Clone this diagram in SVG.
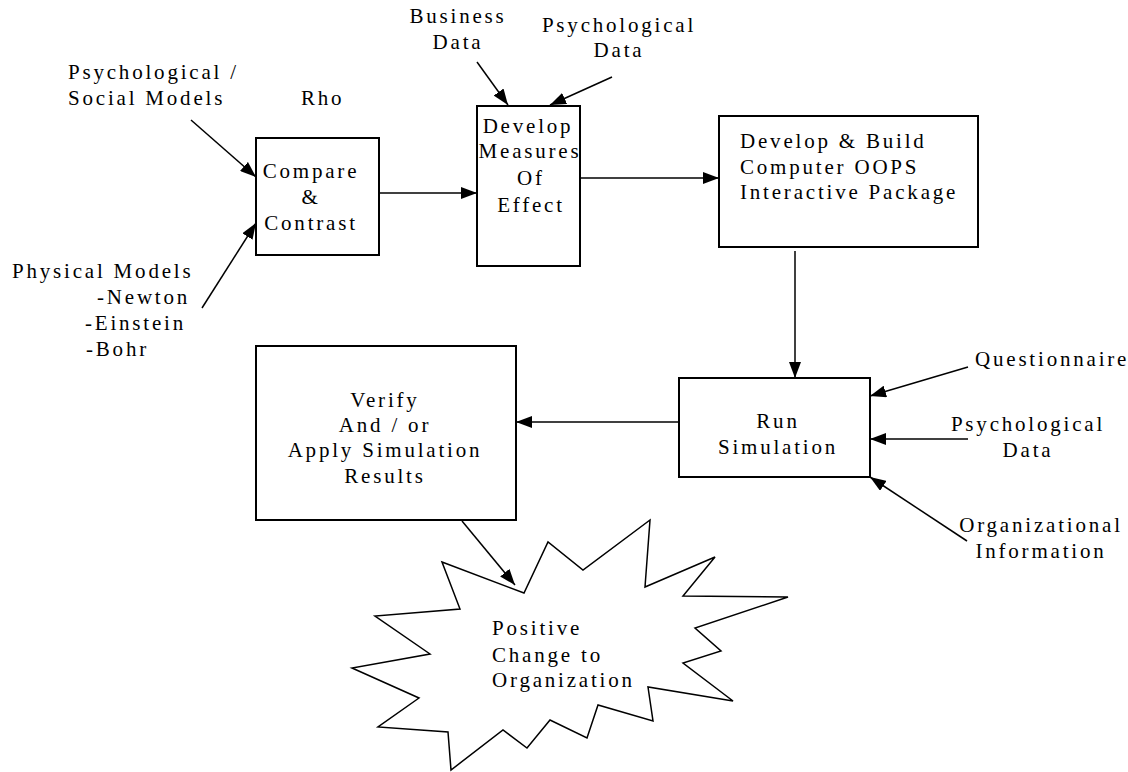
<svg xmlns="http://www.w3.org/2000/svg" width="1128" height="772" viewBox="0 0 1128 772">
<defs>
<marker id="ah" markerUnits="userSpaceOnUse" markerWidth="16" markerHeight="12" refX="16" refY="6" orient="auto">
<path d="M0,0 L16,6 L0,12 z" fill="#000"/>
</marker>
<style>
.t{font-family:"Liberation Serif","Times New Roman",serif;font-size:21px;letter-spacing:2.8px;fill:#000}
.m{text-anchor:middle}
.box{fill:#fff;stroke:#000;stroke-width:2}
.c{fill:none;stroke:#000;stroke-width:1.5;marker-end:url(#ah)}
</style>
</defs>
<rect width="1128" height="772" fill="#fff"/>

<g id="connectors">
<line class="c" x1="191" y1="120" x2="256" y2="177"/>
<line class="c" x1="202" y1="308" x2="256" y2="223"/>
<line class="c" x1="379" y1="193" x2="477" y2="193"/>
<line class="c" x1="477" y1="62" x2="508" y2="105"/>
<line class="c" x1="612" y1="77" x2="550" y2="105"/>
<line class="c" x1="580" y1="178" x2="719" y2="178"/>
<line class="c" x1="795" y1="251" x2="795" y2="378"/>
<line class="c" x1="968" y1="367" x2="870" y2="396"/>
<line class="c" x1="968" y1="439" x2="870" y2="439"/>
<line class="c" x1="967" y1="541" x2="870" y2="477"/>
<line class="c" x1="679" y1="422" x2="516" y2="422"/>
<line class="c" x1="462" y1="521" x2="515" y2="585"/>
</g>

<g id="labels">
<text class="t" x="68" y="79">Psychological /</text>
<text class="t" x="68" y="105">Social Models</text>
<text class="t" x="301" y="105">Rho</text>
<text class="t" x="12" y="278">Physical Models</text>
<text class="t" x="97" y="304">-Newton</text>
<text class="t" x="85" y="330">-Einstein</text>
<text class="t" x="86" y="356">-Bohr</text>
<text class="t m" x="458" y="23">Business</text>
<text class="t m" x="458" y="49">Data</text>
<text class="t m" x="619" y="32">Psychological</text>
<text class="t m" x="619" y="57">Data</text>
<text class="t" x="975" y="366">Questionnaire</text>
<text class="t m" x="1028" y="431">Psychological</text>
<text class="t m" x="1028" y="457">Data</text>
<text class="t m" x="1041" y="532">Organizational</text>
<text class="t m" x="1041" y="558">Information</text>
</g>

<g id="compare">
<rect class="box" x="256" y="138" width="123" height="117"/>
<text class="t m" x="311" y="178">Compare</text>
<text class="t m" x="311" y="204">&amp;</text>
<text class="t m" x="311" y="230">Contrast</text>
</g>

<g id="measures">
<rect class="box" x="477" y="106" width="103" height="160"/>
<text class="t m" x="528" y="133">Develop</text>
<text class="t m" x="530" y="158">Measures</text>
<text class="t m" x="531" y="185">Of</text>
<text class="t m" x="531" y="212">Effect</text>
</g>

<g id="oops">
<rect class="box" x="719" y="116" width="259" height="131"/>
<text class="t" x="740" y="148">Develop &amp; Build</text>
<text class="t" x="740" y="174">Computer OOPS</text>
<text class="t" x="740" y="199">Interactive Package</text>
</g>

<g id="runsim">
<rect class="box" x="679" y="378" width="191" height="99"/>
<text class="t m" x="778" y="428">Run</text>
<text class="t m" x="778" y="454">Simulation</text>
</g>

<g id="verify">
<rect class="box" x="256" y="346" width="260" height="174"/>
<text class="t m" x="385" y="407">Verify</text>
<text class="t m" x="385" y="432">And / or</text>
<text class="t m" x="385" y="457">Apply Simulation</text>
<text class="t m" x="385" y="483">Results</text>
</g>

<g id="change">
<path d="M442,562 L524,593 L548,542 L583,570 L650,520 L645,587 L715,557 L683,596 L788,597 L695,628 L721,651 L683,663 L733,701 L648,687 L653,721 L598,705 L587,738 L550,720 L527,748 L503,730 L451,770 L448,732 L378,727 L419,698 L352,668 L430,654 L375,616 L460,609 Z" fill="#fff" stroke="#000" stroke-width="1.5" stroke-linejoin="miter"/>
<text class="t" x="492" y="635">Positive</text>
<text class="t" x="492" y="662">Change to</text>
<text class="t" x="492" y="687">Organization</text>
</g>
</svg>
